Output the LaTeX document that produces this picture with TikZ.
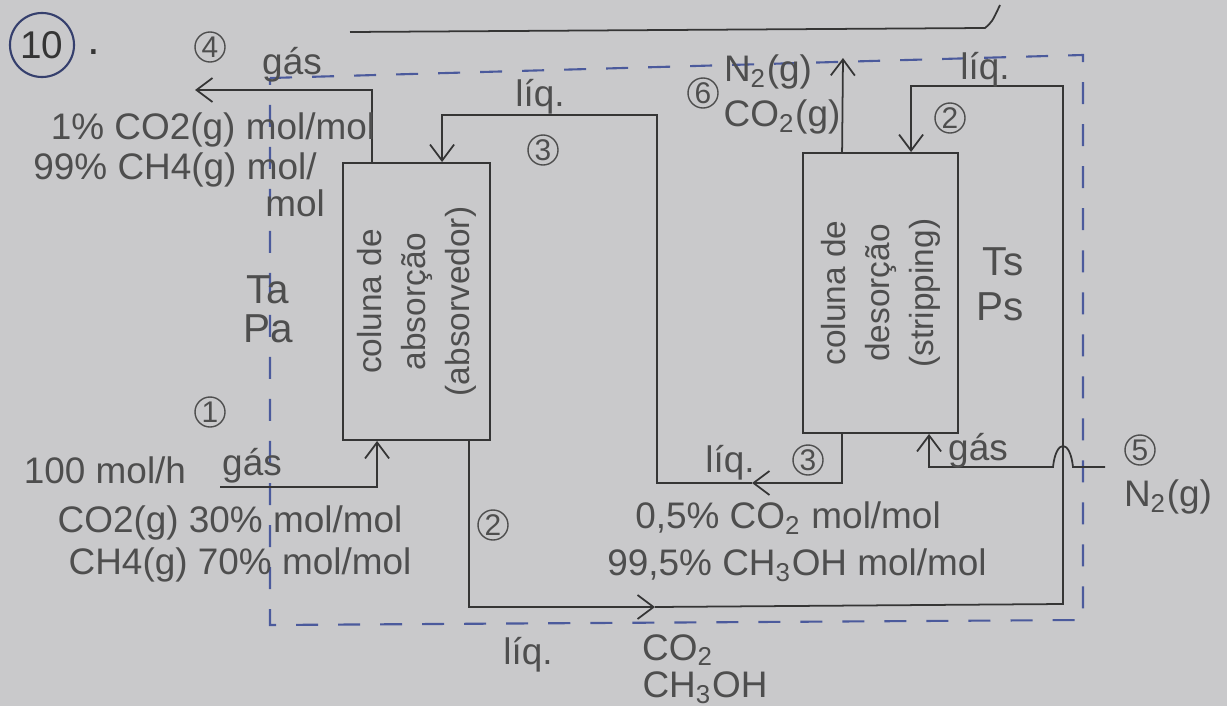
\documentclass[tikz,border=0pt]{standalone}
\usepackage{fontspec}
\setmainfont{Liberation Sans}
\usepackage{xcolor}
\usetikzlibrary{arrows.meta, positioning, calc}

\definecolor{paper}{HTML}{C9C9CB}
\definecolor{pencil}{HTML}{353535}
\definecolor{graphite}{HTML}{4E4E4E}
\definecolor{ink}{HTML}{4B5A9C}

\begin{document}
\begin{tikzpicture}[x=0.01cm, y=-0.01cm,
        line/.style={draw=pencil, line width=0.5pt},
        flow/.style={line, -{Straight Barb[length=1.6mm, width=2.4mm]}},
        boundary/.style={draw=ink, line width=0.6pt, dash pattern=on 2.2mm off 2mm},
        colbox/.style={draw=pencil, line width=0.5pt, minimum width=1.47cm, minimum height=2.77cm, inner sep=0pt},
        hand/.style={text=graphite, font=\fontsize{10.5}{13}\selectfont, inner sep=1pt},
        big/.style={text=graphite, font=\fontsize{11.5}{13}\selectfont, inner sep=0.5pt},
        coltext/.style={text=graphite, font=\fontsize{9.5}{12.5}\selectfont, rotate=90, align=center},
        num/.style={draw=graphite, circle, text=graphite, line width=0.4pt, font=\fontsize{8.5}{9}\selectfont, inner sep=0pt, minimum size=0.3cm}]

        \useasboundingbox (0,0) rectangle (1227,706);
        \fill[paper] (0,0) rectangle (1227,706);

        % heading
        \node[draw=ink!70!black, circle, line width=0.6pt, minimum size=0.64cm, text=pencil, font=\fontsize{11}{13}\selectfont, inner sep=0pt] (title) at (42,45) {10};
        \node[text=pencil, font=\fontsize{13}{15}\selectfont] (titledot) at (94,52) {.};
        \draw[line] (350,32) -- (985,28) .. controls (992,22) .. (1000,5);

        % columns
        \node[colbox] (abs) at (416.5,301.5) {};
        \node[coltext] (abstext) at (abs.center) {coluna de\\absorção\\(absorvedor)};
        \node[colbox, minimum width=1.55cm, minimum height=2.8cm] (str) at (880.5,293) {};
        \node[coltext] (strtext) at (str.center) {coluna de\\desorção\\(stripping)};

        % system boundary
        \draw[boundary] (270,78) -- (1083,55) -- (1083,620) -- (270,625) -- cycle;

        % endpoints and corners
        \coordinate (f1) at (220,487);
        \coordinate (g4) at (195,90);
        \coordinate (m3) at (752,483);
        \coordinate (c3a) at (657,483);
        \coordinate (c3b) at (657,115);
        \coordinate (m2) at (655,607);
        \coordinate (c2a) at (1063,604);
        \coordinate (c2b) at (1063,86);
        \coordinate (n5) at (1105,467);
        \coordinate (g6) at (843,58);

        % streams
        \draw[flow] (f1) -| ($(abs.south west)+(35,0)$);
        \draw[flow] ($(abs.north west)+(30,0)$) |- (g4);
        \draw[flow] ($(str.south west)+(40,0)$) |- (m3);
        \draw[flow] (m3) -- (c3a) -- (c3b) -| ($(abs.north west)+(100,0)$);
        \draw[flow] ($(abs.south east)+(-22,0)$) |- (m2);
        \draw[flow] (m2) -- (c2a) -- (c2b) -| ($(str.north west)+(109,0)$);
        \draw[flow] (n5) -- ++(-32,0) .. controls +(-3,-28) and +(3,-28) .. ++(-20,0) -| ($(str.south west)+(127,0)$);
        \draw[flow] ($(str.north west)+(40,0)$) -- (g6);

        % stream 4
        \node[num] (n4) at (210,47) {4};
        \node[hand] (gas4) at (292,65) {gás};
        \node[hand] (x4a) at (213,130) {1\% CO2(g) mol/mol};
        \node[hand] (x4b) at (175,170) {99\% CH4(g) mol/};
        \node[hand] (x4c) at (295,203) {mol};
        \node[big] (ta) at (268,290) {Ta};
        \node[big] (pa) at (268,329) {Pa};

        % stream 1
        \node[num] (n1) at (210,412) {1};
        \node[hand] (flow1) at (105,470) {100 mol/h};
        \node[hand] (gas1) at (252,466) {gás};
        \node[hand] (x1a) at (230,523) {CO2(g) 30\% mol/mol};
        \node[hand] (x1b) at (240,565) {CH4(g) 70\% mol/mol};

        % stream 2
        \node[num] (n2a) at (493,525) {2};
        \node[hand] (liq2) at (528,655) {líq.};
        \node[hand] (x2a) at (678,650) {CO\textsubscript{2}};
        \node[hand] (x2b) at (705,688) {CH\textsubscript{3}OH};
        \node[hand] (liq2b) at (985,70) {líq.};
        \node[num] (n2b) at (950,118) {2};

        % stream 3
        \node[hand] (liq3a) at (540,97) {líq.};
        \node[num] (n3a) at (543,150) {3};
        \node[hand] (liq3b) at (730,463) {líq.};
        \node[num] (n3b) at (808,460) {3};
        \node[hand] (x3a) at (788,518) {0,5\% CO\textsubscript{2} mol/mol};
        \node[hand] (x3b) at (797,565) {99,5\% CH\textsubscript{3}OH mol/mol};

        % streams 5 and 6
        \node[num] (n6) at (703,93) {6};
        \node[hand] (x6a) at (768,72) {N\textsubscript{2}(g)};
        \node[hand] (x6b) at (782,117) {CO\textsubscript{2}(g)};
        \node[big] (ts) at (1003,262) {Ts};
        \node[big] (ps) at (1000,307) {Ps};
        \node[hand] (gas5) at (978,451) {gás};
        \node[num] (n5c) at (1140,450) {5};
        \node[hand] (x5) at (1168,497) {N\textsubscript{2}(g)};

    \end{tikzpicture}
\end{document}
